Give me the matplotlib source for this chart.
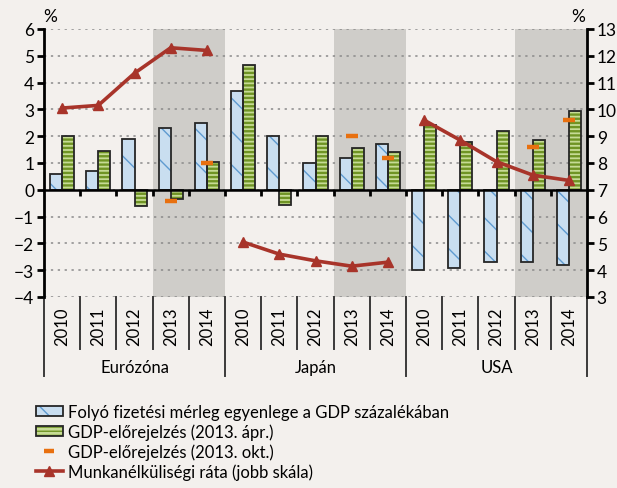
import numpy as np
import matplotlib
matplotlib.use('Agg')
import matplotlib.pyplot as plt
from matplotlib.patches import Patch
from matplotlib.lines import Line2D
from matplotlib.legend_handler import HandlerTuple

plt.rcParams['font.family'] = ['Lato', 'DejaVu Sans']

# --- data ---
regions = ['Eurózóna', 'Japán', 'USA']
years = ['2010', '2011', '2012', '2013', '2014']
shaded_years = ['2013', '2014']

current_account = [0.6, 0.7, 1.9, 2.3, 2.5,
                   3.7, 2.0, 1.0, 1.2, 1.7,
                   -3.0, -2.9, -2.7, -2.7, -2.8]
gdp_apr = [2.0, 1.45, -0.6, -0.35, 1.05,
           4.65, -0.55, 2.0, 1.55, 1.4,
           2.4, 1.8, 2.2, 1.85, 2.95]
gdp_oct = [np.nan, np.nan, np.nan, -0.4, 1.0,
           np.nan, np.nan, np.nan, 2.0, 1.2,
           np.nan, np.nan, np.nan, 1.6, 2.6]
unemployment = [10.05, 10.15, 11.35, 12.3, 12.2,
                5.05, 4.6, 4.35, 4.15, 4.3,
                9.6, 8.85, 8.05, 7.55, 7.35]

labels = ['Folyó fizetési mérleg egyenlege a GDP százalékában',
          'GDP-előrejelzés (2013. ápr.)',
          'GDP-előrejelzés (2013. okt.)',
          'Munkanélküliségi ráta (jobb skála)']

BG = '#f3f0ed'
SHADE = '#cfcdc9'
CA_FACE, CA_HATCH = '#c9def0', '#5f9bd0'
GDP_FACE, GDP_HATCH = '#c6db95', '#6f9424'
OCT_COL = '#e8700f'
LINE_COL = '#a8342a'
EDGE = '#262626'

n_years = len(years)
n = len(regions) * n_years
x = np.arange(n) + 0.5
w = 0.335

fig = plt.figure(figsize=(6.17, 4.89), dpi=100, facecolor=BG)
ax = fig.add_axes([44 / 617, (489 - 298) / 489, 543 / 617, 268 / 489])
ax.set_facecolor(BG)
ax.set_xlim(0, n)
ax.set_ylim(-4, 6)

# forecast-year shading
for g in range(len(regions)):
    idx = [g * n_years + years.index(yr) for yr in shaded_years]
    ax.axvspan(min(idx), max(idx) + 1, color=SHADE, lw=0, zorder=0.2)

# dotted grid
ax.set_yticks(np.arange(-4, 7))
ax.yaxis.grid(True, linestyle=(0, (1.5, 3)), color='#8a8a8a', lw=1.1)
ax.set_axisbelow(True)

# bars: hatch layer + outline layer
with plt.rc_context({'hatch.linewidth': 1.0}):
    ax.bar(x - w / 2, current_account, w, color=CA_FACE, edgecolor=CA_HATCH,
           hatch='\\', lw=0, zorder=2)
ax.bar(x - w / 2, current_account, w, fill=False, edgecolor=EDGE, lw=1.3, zorder=2.1)
with plt.rc_context({'hatch.linewidth': 1.7}):
    ax.bar(x + w / 2, gdp_apr, w, color=GDP_FACE, edgecolor=GDP_HATCH,
           hatch='----', lw=0, zorder=2)
ax.bar(x + w / 2, gdp_apr, w, fill=False, edgecolor=EDGE, lw=1.3, zorder=2.1)

ax.plot(x, gdp_oct, ls='none', marker='_', ms=8.5, mew=3.2, color=OCT_COL, zorder=3)

# axes styling
for s in ['top', 'right']:
    ax.spines[s].set_visible(False)
ax.spines['left'].set_linewidth(2)
ax.spines['bottom'].set_position(('data', 0))
ax.spines['bottom'].set_linewidth(1.8)
ax.spines['bottom'].set_zorder(3)
ax.set_xticks(np.arange(1, n))
ax.set_xticklabels([])
ax.tick_params(axis='x', direction='out', length=4, width=2)
ax.tick_params(axis='y', direction='out', length=5, width=2, labelsize=12.5, pad=2)

# right axis: unemployment
ax2 = ax.twinx()
ax2.set_ylim(3, 13)
ax2.set_yticks(np.arange(3, 14))
for g in range(len(regions)):
    sl = slice(g * n_years, (g + 1) * n_years)
    ax2.plot(x[sl], unemployment[sl], color=LINE_COL, lw=2.6, marker='^', ms=7.5)
for s in ['top', 'left', 'bottom']:
    ax2.spines[s].set_visible(False)
ax2.spines['right'].set_linewidth(2)
ax2.tick_params(axis='y', direction='out', length=5, width=2, labelsize=12.5, pad=2)

fig.text(50 / 617, 1 - 17 / 489, '%', fontsize=12.5, ha='center', va='center')
fig.text(578 / 617, 1 - 17 / 489, '%', fontsize=12.5, ha='center', va='center')

# category axis below the plot
tr = ax.get_xaxis_transform()
for i in range(n + 1):
    low = -0.295 if i % n_years == 0 else -0.194
    ax.plot([i, i], [0, low], transform=tr, clip_on=False, color='#3a3a3a', lw=1.4)
for i in range(n):
    ax.text(x[i], -0.108, years[i % n_years], transform=tr, rotation=90,
            ha='center', va='center', fontsize=12)
for g, reg in enumerate(regions):
    ax.text(g * n_years + n_years / 2, -0.262, reg, transform=tr,
            ha='center', va='center', fontsize=12)

# legend
h_ca = (Patch(facecolor=CA_FACE, edgecolor=CA_HATCH, hatch='\\', lw=0),
        Patch(fill=False, edgecolor=EDGE, lw=1.3))
h_gdp = (Patch(facecolor=GDP_FACE, edgecolor=GDP_HATCH, hatch='----', lw=0),
         Patch(fill=False, edgecolor=EDGE, lw=1.3))
h_oct = Line2D([], [], ls='none', marker='_', ms=7, mew=3.2, color=OCT_COL)
h_line = Line2D([], [], color=LINE_COL, lw=2.6, marker='^', ms=7.5)
fig.legend([h_ca, h_gdp, h_oct, h_line], labels,
           handler_map={tuple: HandlerTuple(ndivide=1, pad=0)},
           loc='upper left', bbox_to_anchor=(36 / 617, 1 - 405 / 489),
           frameon=False, fontsize=12, handlelength=1.6, handleheight=0.55,
           handletextpad=0.35, labelspacing=0.2, borderaxespad=0, borderpad=0)

fig.savefig('out.png', dpi=100, facecolor=BG)
